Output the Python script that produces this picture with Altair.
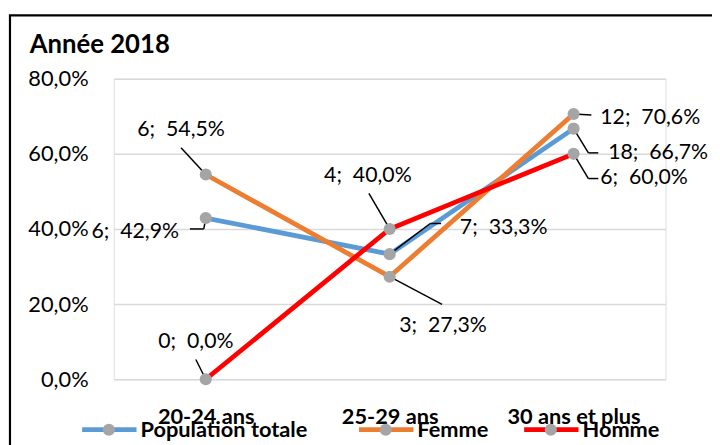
import altair as alt
import pandas as pd

categories = ["20-24 ans", "25-29 ans", "30 ans et plus"]
series = ["Population totale", "Femme", "Homme"]
colors = ["#5B9BD5", "#ED7D31", "#FF0000"]
pop_values = [42.9, 33.3, 66.7]
pop_counts = [6, 7, 18]
fem_values = [54.5, 27.3, 70.6]
fem_counts = [6, 3, 12]
hom_values = [0.0, 40.0, 60.0]
hom_counts = [0, 4, 6]
y_ticks = [0, 20, 40, 60, 80]

FONT = "Lato"

rows = []
for s, vals, cnts in [(series[0], pop_values, pop_counts),
                      (series[1], fem_values, fem_counts),
                      (series[2], hom_values, hom_counts)]:
    for c, v, n in zip(categories, vals, cnts):
        pct = f"{v:.1f}".replace(".", ",") + "%"
        rows.append({"category": c, "series": s, "value": v,
                     "label": f"{n};\u00a0 {pct}"})
df = pd.DataFrame(rows)

# label placement (pixel offsets from the point), style only
label_layout = {
    (series[0], categories[0]): (-27, 14, "right"),
    (series[1], categories[0]): (-25, -45, "center"),
    (series[2], categories[0]): (-10, -38, "center"),
    (series[0], categories[1]): (71, -26, "left"),
    (series[1], categories[1]): (54, 50, "center"),
    (series[2], categories[1]): (-22, -54, "center"),
    (series[0], categories[2]): (35, 25, "left"),
    (series[1], categories[2]): (27, 4, "left"),
    (series[2], categories[2]): (27, 25, "left"),
}
leader_layout = [
    (series[0], categories[0], 0, 0, -2, 11), (series[0], categories[0], -2, 11, -16, 11),
    (series[1], categories[0], 0, 0, -25, -27),
    (series[2], categories[0], 0, 0, -10, -20),
    (series[0], categories[1], 0, 0, 41, -31), (series[0], categories[1], 41, -31, 52, -31),
    (series[1], categories[1], 0, 0, 53, 28),
    (series[2], categories[1], 0, 0, -21, -36),
    (series[0], categories[2], 0, 0, 15, 24.5), (series[0], categories[2], 15, 24.5, 25, 24.5),
    (series[1], categories[2], 0, 0, 18, 1),
    (series[2], categories[2], 0, 0, 15, 25), (series[2], categories[2], 15, 25, 25, 25),
]
# legend entry centres (pixels, relative to plot left) and vertical position
legend_centres = [-5, 275, 442]
legend_y = 355

x_enc = alt.X("category:N", sort=categories,
              scale=alt.Scale(type="point", padding=0.5),
              axis=alt.Axis(title=None, labelAngle=0, domain=False, ticks=False,
                            labelPadding=28, labelFont=FONT, labelFontSize=22,
                            labelFontWeight="bold", labelColor="#000000", grid=False))
y_enc = alt.Y("value:Q", scale=alt.Scale(domain=[0, 80], nice=False),
              axis=alt.Axis(title=None, values=y_ticks, domain=False, ticks=False,
                            labelPadding=26, labelFont=FONT, labelFontSize=22,
                            labelColor="#000000",
                            labelExpr="replace(format(datum.value, '.1f'), '.', ',') + '%'",
                            grid=True, gridColor="#D9D9D9", gridWidth=1.5))
color_scale = alt.Scale(domain=series, range=colors)
color_enc = alt.Color("series:N", scale=color_scale, legend=None)

base = alt.Chart(df)
xc = alt.X("category:N", sort=categories)

lines = base.mark_line(strokeWidth=4.8).encode(x=x_enc, y=y_enc, color=color_enc, detail="series:N")

leaders = []
for s, c, x0, y0, x1, y1 in leader_layout:
    leaders.append(
        base.transform_filter((alt.datum.series == s) & (alt.datum.category == c))
        .mark_rule(color="#000000", strokeWidth=1.5,
                   xOffset=x0, yOffset=y0, x2Offset=x1, y2Offset=y1)
        .encode(x=xc, y="value:Q", x2=alt.X2("category"), y2=alt.Y2("value"))
    )

points = base.mark_point(filled=True, size=150, color="#A5A5A5", opacity=1).encode(
    x=xc, y="value:Q")

labels = []
for (s, c), (dx, dy, al) in label_layout.items():
    labels.append(
        base.transform_filter((alt.datum.series == s) & (alt.datum.category == c))
        .mark_text(font=FONT, fontSize=21.5, color="#000000", align=al, baseline="middle",
                   dx=dx, dy=dy)
        .encode(x=xc, y="value:Q", text="label:N")
    )

# legend drawn as marks, one entry per series
leg_df = pd.DataFrame({"series": series})
legend_layers = []
for s, cx in zip(series, legend_centres):
    lb = alt.Chart(leg_df).transform_filter(alt.datum.series == s)
    legend_layers.append(lb.mark_rule(strokeWidth=4.8).encode(
        x=alt.value(cx - 27), x2=alt.value(cx + 28), y=alt.value(legend_y),
        color=alt.Color("series:N", scale=color_scale, legend=None)))
    legend_layers.append(lb.mark_point(filled=True, size=150, color="#A5A5A5", opacity=1).encode(
        x=alt.value(cx), y=alt.value(legend_y)))
    legend_layers.append(lb.mark_text(font=FONT, fontSize=22, fontWeight="bold", align="left",
                                      baseline="middle", color="#000000").encode(
        x=alt.value(cx + 32), y=alt.value(legend_y), text="series:N"))

frame_df = pd.DataFrame({"k": [0]})
frame = alt.Chart(frame_df).mark_rect(fill=None, stroke="#000000", strokeWidth=2.2).encode(
    x=alt.value(-105), x2=alt.value(640), y=alt.value(-64), y2=alt.value(420))

chart = alt.layer(
    frame, lines, *leaders, points, *labels, *legend_layers
).properties(
    width=558, height=304,
    autosize=alt.AutoSizeParams(type="none"),
    padding={"left": 107, "top": 69, "right": 47, "bottom": 64},
    title=alt.TitleParams("Année 2018", anchor="start", frame="group", dx=-85, dy=79,
                          offset=14, baseline="alphabetic", font=FONT, fontSize=26,
                          fontWeight="bold", color="#000000"),
).configure_view(stroke=None).configure(background="white")

chart.save("out.html", embed_options={"renderer": "svg", "actions": False})
